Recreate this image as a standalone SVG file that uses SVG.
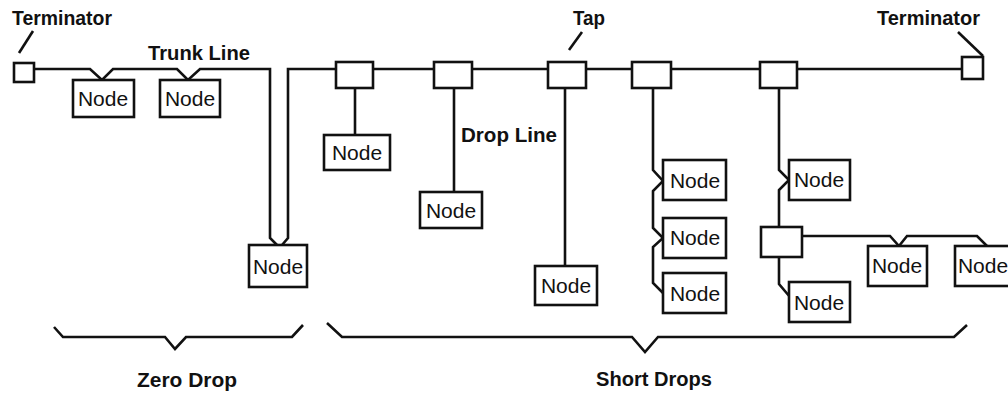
<svg xmlns="http://www.w3.org/2000/svg" width="1008" height="394" viewBox="0 0 1008 394">
<style>
.ln{fill:none;stroke:#111;stroke-width:2.6;stroke-linejoin:miter}
.bx{fill:#fff;stroke:#111;stroke-width:2.6}
.nt{font-family:"Liberation Sans",Arial,sans-serif;font-size:21px;fill:#111;text-anchor:middle}
.lb{font-family:"Liberation Sans",Arial,sans-serif;font-size:20px;font-weight:bold;fill:#111}
</style>
<rect width="1008" height="394" fill="#fff"/>
<g id="connectors">
<path class="ln" d="M34,69 H90 L102,80 L113,69 H177 L188,80 L200,69 H270 V238 L277,245"/>
<path class="ln" d="M282,245 L288,238 V69 H962"/>
<path class="ln" d="M355,88 V135"/>
<path class="ln" d="M454,88 V192"/>
<path class="ln" d="M565,88 V266"/>
<path class="ln" d="M653,88 V170 L663,181 L653,191 V228 L663,238 L653,247 V283 L663,293"/>
<path class="ln" d="M779,88 V170 L789,180 L779,190 V227"/>
<path class="ln" d="M779,257 V284 L790,297"/>
<path class="ln" d="M802,236 H890 L899,246 L907,236 H977 L987,246"/>
<path class="ln" d="M19,53 L33,31"/>
<path class="ln" d="M569,50 L582,32"/>
<path class="ln" d="M958,32 L983,56"/>
<path class="ln" d="M54,327 L63,337 H165 L175,349 L186,337 H292 L303,325"/>
<path class="ln" d="M327,323 L342,337 H632 L645,352 L658,337 H954 L967,325"/>
</g>
<g id="term-left"><rect class="bx" x="14" y="63" width="20" height="19"/></g>
<g id="term-right"><rect class="bx" x="962" y="57" width="21" height="22"/></g>
<g id="tap1"><rect class="bx" x="336" y="62" width="37" height="26"/></g>
<g id="tap2"><rect class="bx" x="434" y="62" width="38" height="26"/></g>
<g id="tap3"><rect class="bx" x="548" y="62" width="38" height="26"/></g>
<g id="tap4"><rect class="bx" x="632" y="62" width="39" height="26"/></g>
<g id="tap5"><rect class="bx" x="760" y="62" width="37" height="26"/></g>
<g id="tap6"><rect class="bx" x="761" y="227" width="41" height="30"/></g>
<g id="node1"><rect class="bx" x="73" y="80" width="61" height="37"/><text class="nt" x="103" y="106">Node</text></g>
<g id="node2"><rect class="bx" x="160" y="80" width="60" height="37"/><text class="nt" x="190" y="106">Node</text></g>
<g id="node3"><rect class="bx" x="249" y="245" width="58" height="42"/><text class="nt" x="278" y="274">Node</text></g>
<g id="node4"><rect class="bx" x="324" y="135" width="66" height="35"/><text class="nt" x="357" y="160">Node</text></g>
<g id="node5"><rect class="bx" x="420" y="192" width="62" height="36"/><text class="nt" x="451" y="218">Node</text></g>
<g id="node6"><rect class="bx" x="535" y="266" width="62" height="39"/><text class="nt" x="566" y="293">Node</text></g>
<g id="node7"><rect class="bx" x="663" y="160" width="63" height="40"/><text class="nt" x="695" y="188">Node</text></g>
<g id="node8"><rect class="bx" x="663" y="218" width="63" height="40"/><text class="nt" x="695" y="245">Node</text></g>
<g id="node9"><rect class="bx" x="663" y="273" width="63" height="40"/><text class="nt" x="695" y="301">Node</text></g>
<g id="node10"><rect class="bx" x="789" y="160" width="61" height="40"/><text class="nt" x="819" y="187">Node</text></g>
<g id="node11"><rect class="bx" x="789" y="282" width="61" height="40"/><text class="nt" x="819" y="310">Node</text></g>
<g id="node12"><rect class="bx" x="868" y="246" width="59" height="40"/><text class="nt" x="897" y="273">Node</text></g>
<g id="node13"><rect class="bx" x="955" y="246" width="60" height="40"/><text class="nt" x="983" y="273">Node</text></g>
<g id="labels">
<text class="lb" x="12" y="25" textLength="100" lengthAdjust="spacingAndGlyphs" font-size="18">Terminator</text>
<text class="lb" x="148" y="60" textLength="102" lengthAdjust="spacingAndGlyphs">Trunk Line</text>
<text class="lb" x="573" y="25" textLength="32" lengthAdjust="spacingAndGlyphs">Tap</text>
<text class="lb" x="877" y="25" textLength="103" lengthAdjust="spacingAndGlyphs">Terminator</text>
<text class="lb" x="461" y="142" textLength="96" lengthAdjust="spacingAndGlyphs">Drop Line</text>
<text class="lb" x="137" y="387" textLength="100" lengthAdjust="spacingAndGlyphs">Zero Drop</text>
<text class="lb" x="596" y="386" textLength="116" lengthAdjust="spacingAndGlyphs">Short Drops</text>
</g>
</svg>
